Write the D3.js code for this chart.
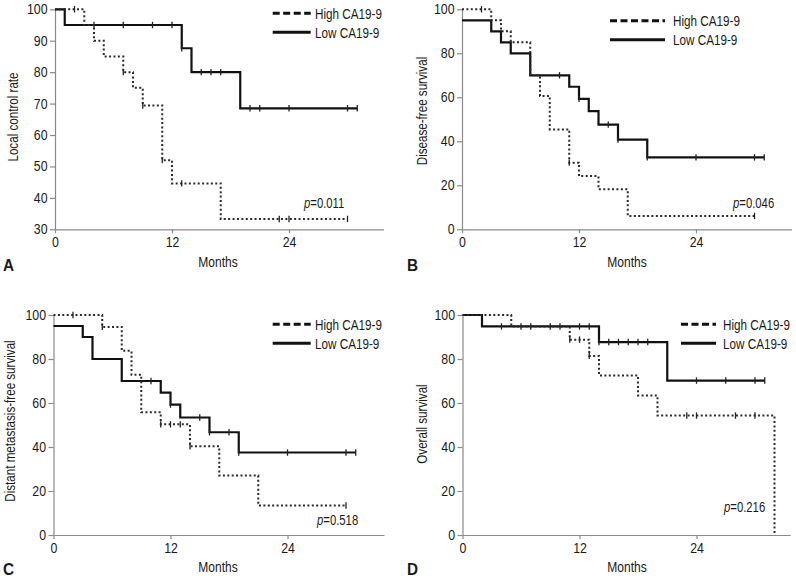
<!DOCTYPE html>
<html><head><meta charset="utf-8">
<script src="https://cdn.jsdelivr.net/npm/d3@7/dist/d3.min.js"></script>
<style>
body{margin:0;background:#fff}
svg{display:block}
text{font-family:"Liberation Sans",Arial,sans-serif;fill:#1a1a1a}
</style>
</head><body>
<svg id="c" width="796" height="580"></svg>
<script>
// ---------- data ----------
const panelLetters = ["A", "B", "C", "D"];
const yLabels = ["Local control rate", "Disease-free survival", "Distant metastasis-free survival", "Overall survival"];
const xLabel = "Months";
const xTicks = [0, 12, 24];
const yTicksA = [30, 40, 50, 60, 70, 80, 90, 100];
const yTicksBCD = [0, 20, 40, 60, 80, 100];
const pValues = ["0.011", "0.046", "0.518", "0.216"];
const legendNames = ["High CA19-9", "Low CA19-9"];

// Panel A – local control
const highA_start = 100;
const highA_events = [[3, 95], [4, 90], [5, 85], [7, 80], [8, 75], [9, 69.4], [11, 52], [12, 44.6], [17, 33.3]];
const highA_censor = [2, 7, 9, 11, 13, 23, 24, 30];
const highA_end = 30;
const lowA_start = 100;
const lowA_events = [[1, 95], [13, 87.6], [14, 80], [19, 68.5]];
const lowA_censor = [4, 7, 10, 12, 13, 15, 16, 17, 20, 21, 24, 30, 31];
const lowA_end = 31;

// Panel B – disease-free survival
const highB_start = 100;
const highB_events = [[3, 95], [4, 90], [5, 85], [7, 70], [8, 60.6], [9, 45.4], [11, 30.3], [12, 24.2], [14, 18.2], [17, 6.1]];
const highB_censor = [2, 11, 30];
const highB_end = 30;
const lowB_start = 95;
const lowB_events = [[3, 90], [4, 85], [5, 80], [7, 70], [11, 64.8], [12, 59.3], [13, 53.7], [14, 47.6], [16, 40.8], [19, 32.7]];
const lowB_censor = [10, 12, 15, 16, 19, 24, 30, 31];
const lowB_end = 31;

// Panel C – distant metastasis-free survival
const highC_start = 100;
const highC_events = [[5, 94.6], [7, 83.7], [8, 72.8], [9, 55.8], [11, 50.3], [14, 40.3], [17, 27], [21, 13.4]];
const highC_censor = [2, 5, 11, 12, 13, 14, 30];
const highC_end = 30;
const lowC_start = 95;
const lowC_events = [[3, 90], [4, 80], [7, 70], [11, 64.7], [12, 59.3], [13, 53.4], [16, 46.7], [19, 37.5]];
const lowC_censor = [10, 12, 15, 16, 18, 19, 24, 30, 31];
const lowC_end = 31;

// Panel D – overall survival
const highD_start = 100;
const highD_events = [[5, 94.8], [11, 88.8], [13, 81.4], [14, 72.5], [18, 63.4], [20, 54.3], [32, 0]];
const highD_censor = [11, 12, 13, 23, 24, 28, 30];
const highD_end = 32;
const lowD_start = 100;
const lowD_events = [[2, 94.8], [14, 87.7], [21, 70.2]];
const lowD_censor = [4, 6, 7, 9, 10, 12, 13, 14, 15, 16, 17, 18, 19, 24, 27, 30, 31];
const lowD_end = 31;

// ---------- layout ----------
const panels = [
  {letter: panelLetters[0], ylab: yLabels[0], yTicks: yTicksA, yDom: [30, 100], p: pValues[0],
   left: 55, top: 9.3, bottom: 229.3, xmax: 33.7,
   high: [highA_start, highA_events, highA_censor, highA_end], low: [lowA_start, lowA_events, lowA_censor, lowA_end],
   ylx: 13, yly: 117, mx: 218, my: 267, lx: 3, ly: 271, legX1: 272.7, legX2: 310.7, legTx: 315, legY: 13.3, px: 304, py: 208},
  {letter: panelLetters[1], ylab: yLabels[1], yTicks: yTicksBCD, yDom: [0, 100], p: pValues[1],
   left: 462, top: 9.3, bottom: 229.3, xmax: 33.8,
   high: [highB_start, highB_events, highB_censor, highB_end], low: [lowB_start, lowB_events, lowB_censor, lowB_end],
   ylx: 422.5, yly: 111, mx: 627, my: 267, lx: 407, ly: 271, legX1: 610, legX2: 665, legTx: 673, legY: 20.7, px: 733, py: 208},
  {letter: panelLetters[2], ylab: yLabels[2], yTicks: yTicksBCD, yDom: [0, 100], p: pValues[2],
   left: 53.5, top: 315, bottom: 535, xmax: 33.9,
   high: [highC_start, highC_events, highC_censor, highC_end], low: [lowC_start, lowC_events, lowC_censor, lowC_end],
   ylx: 10, yly: 421, mx: 218, my: 572, lx: 3, ly: 575, legX1: 272.7, legX2: 310.7, legTx: 315, legY: 324.3, px: 317, py: 525},
  {letter: panelLetters[3], ylab: yLabels[3], yTicks: yTicksBCD, yDom: [0, 100], p: pValues[3],
   left: 462.5, top: 315, bottom: 535, xmax: 33.6,
   high: [highD_start, highD_events, highD_censor, highD_end], low: [lowD_start, lowD_events, lowD_censor, lowD_end],
   ylx: 422, yly: 424, mx: 627, my: 572, lx: 407, ly: 575, legX1: 681, legX2: 716, legTx: 723, legY: 324.3, px: 724, py: 512}
];

const pxPerMonth = 9.75;
const svg = d3.select("#c");

function survAt(start, events, t) {
  let s = start;
  for (const [et, ev] of events) if (et <= t) s = ev;
  return s;
}

// condensed text helper (reference uses a narrow sans face)
function ctext(g, x, y, str, size, sx, opts = {}) {
  const t = g.append("text")
    .attr("transform", `translate(${x},${y})${opts.rotate ? " rotate(-90)" : ""} scale(${sx},1)`)
    .attr("text-anchor", opts.anchor || "start")
    .style("font-size", size + "px");
  if (opts.weight) t.style("font-weight", opts.weight);
  if (opts.baseline) t.attr("dominant-baseline", opts.baseline);
  if (str !== null) t.text(str);
  return t;
}

const tickScale = 0.88;

panels.forEach(P => {
  const x = d3.scaleLinear().domain([0, P.xmax]).range([P.left, P.left + P.xmax * pxPerMonth]);
  const y = d3.scaleLinear().domain(P.yDom).range([P.bottom, P.top]);
  const g = svg.append("g");

  // axes
  const ya = g.append("g").attr("transform", `translate(${P.left},0)`)
    .call(d3.axisLeft(y).tickValues(P.yTicks).tickSize(5).tickSizeOuter(0).tickPadding(2));
  const xa = g.append("g").attr("transform", `translate(0,${P.bottom})`)
    .call(d3.axisBottom(x).tickValues(xTicks).tickSize(4).tickSizeOuter(0).tickPadding(4));
  [ya, xa].forEach(a => {
    a.select(".domain").attr("stroke", "#8a8a8a").attr("stroke-width", 1.2);
    a.selectAll(".tick line").attr("stroke", "#8a8a8a").attr("stroke-width", 1.2);
    a.selectAll(".tick text").attr("fill", "#1a1a1a").style("font-size", "14px")
      .style("font-family", '"Liberation Sans",Arial,sans-serif')
      .attr("transform", `scale(${tickScale},1)`);
  });
  ya.selectAll(".tick text").attr("x", -7.5 / tickScale);

  // KM curves
  const line = d3.line().x(d => x(d[0])).y(d => y(d[1])).curve(d3.curveStepAfter);
  const drawCurve = (spec, dotted) => {
    const [start, events, censor, end] = spec;
    const pts = [[0, start]].concat(events);
    pts.push([end, events[events.length - 1][1]]);
    g.append("path").attr("d", line(pts)).attr("fill", "none")
      .attr("stroke", dotted ? "#2a2a2a" : "#111")
      .attr("stroke-width", dotted ? 2 : 2.2)
      .attr("stroke-dasharray", dotted ? "2,2.4" : null);
    g.selectAll(null).data(censor).enter().append("line")
      .attr("x1", d => x(d)).attr("x2", d => x(d))
      .attr("y1", d => y(survAt(start, events, d)) - 3.2)
      .attr("y2", d => y(survAt(start, events, d)) + 3.2)
      .attr("stroke", "#222").attr("stroke-width", 1.3);
  };
  drawCurve(P.low, false);
  drawCurve(P.high, true);

  // legend
  g.append("line").attr("x1", P.legX1).attr("x2", P.legX2).attr("y1", P.legY).attr("y2", P.legY)
    .attr("stroke", "#111").attr("stroke-width", 3).attr("stroke-dasharray", "7,3.5");
  g.append("line").attr("x1", P.legX1).attr("x2", P.legX2).attr("y1", P.legY + 19).attr("y2", P.legY + 19)
    .attr("stroke", "#111").attr("stroke-width", 3);
  ctext(g, P.legTx, P.legY + 5.5, legendNames[0], 15, 0.78);
  ctext(g, P.legTx, P.legY + 24.5, legendNames[1], 15, 0.78);

  // p value
  const pt = ctext(g, P.px, P.py, null, 14.5, 0.78);
  pt.append("tspan").style("font-style", "italic").text("p");
  pt.append("tspan").text("=" + P.p);

  // labels
  ctext(g, P.ylx, P.yly, P.ylab, 14, 0.83, {rotate: true, anchor: "middle", baseline: "central"});
  ctext(g, P.mx, P.my, xLabel, 14.5, 0.83, {anchor: "middle"});
  ctext(g, P.lx, P.ly, P.letter, 17, 0.9, {weight: "bold"});
});
</script>
</body></html>
